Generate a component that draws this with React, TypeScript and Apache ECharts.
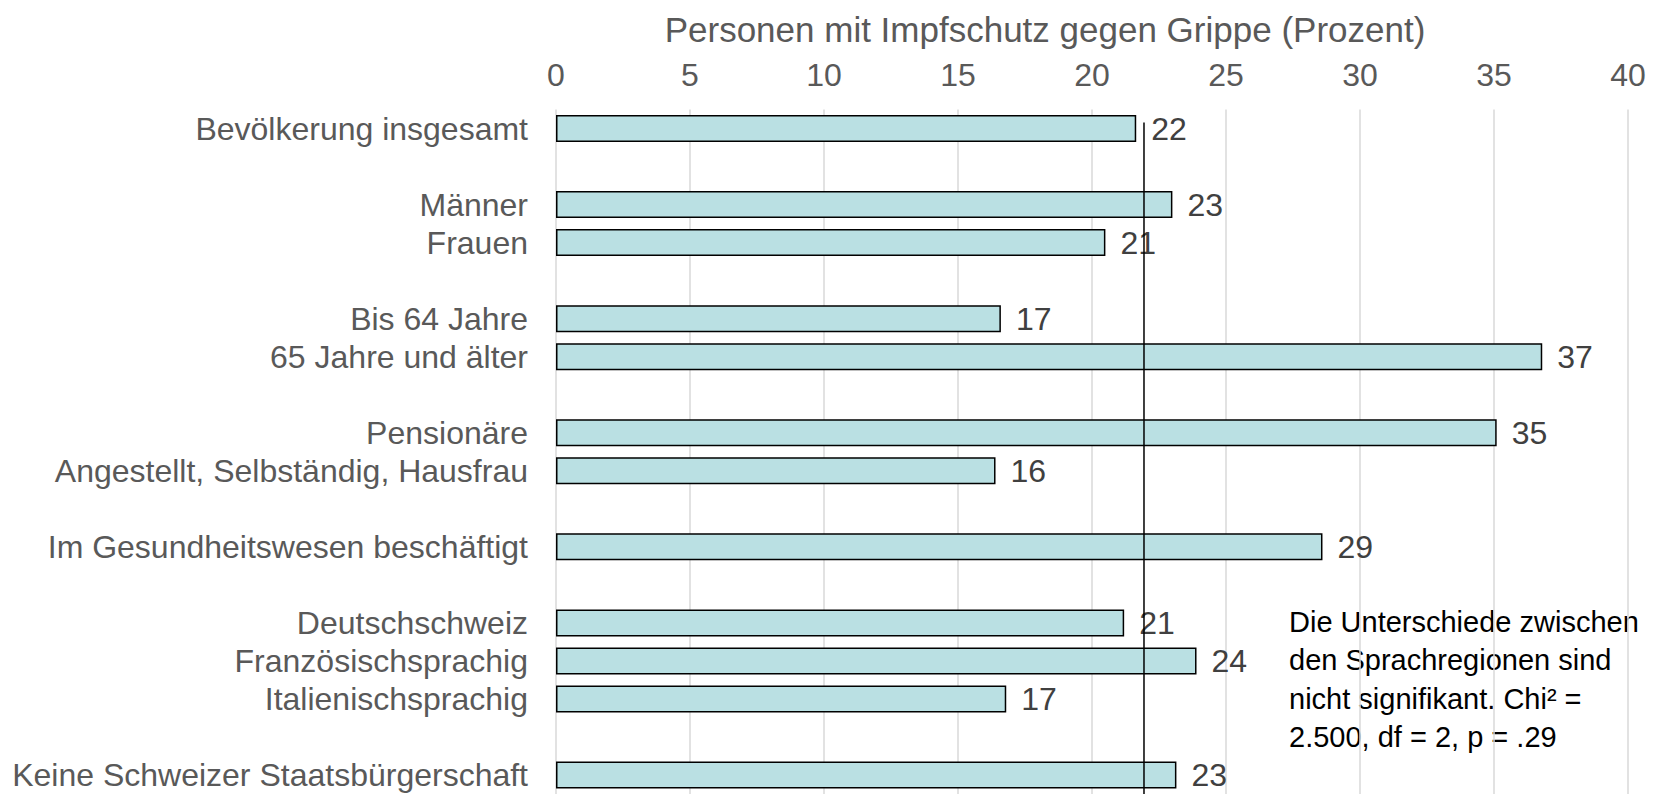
import React, { useEffect, useRef } from "react";
import * as echarts from "echarts";

const categories = [
  "Bevölkerung insgesamt",
  "",
  "Männer",
  "Frauen",
  "",
  "Bis 64 Jahre",
  "65 Jahre und älter",
  "",
  "Pensionäre",
  "Angestellt, Selbständig, Hausfrau",
  "",
  "Im Gesundheitswesen beschäftigt",
  "",
  "Deutschschweiz",
  "Französischsprachig",
  "Italienischsprachig",
  "",
  "Keine Schweizer Staatsbürgerschaft",
];

const values: (number | null)[] = [
  21.65, null, 23.0, 20.5, null, 16.6, 36.8, null, 35.1, 16.4, null, 28.6, null, 21.2, 23.9, 16.8, null, 23.15,
];

const meanValue = 21.94;
// vertical extent of the mean line, in category-index units
const meanLineFrom = -0.16;
const meanLineTo = 17.5;

const axisMin = 0;
const axisMax = 40;
const axisInterval = 5;

const axisTitle = "Personen mit Impfschutz gegen Grippe (Prozent)";

const noteLines = [
  "Die Unterschiede zwischen",
  "den Sprachregionen sind",
  "nicht signifikant. Chi² =",
  "2.500, df = 2, p = .29",
];

const FONT = "'Liberation Sans', Arial, sans-serif";

export default function App() {
  const ref = useRef<HTMLDivElement>(null);

  useEffect(() => {
    if (!ref.current) return;
    const chart = echarts.init(ref.current, undefined, { renderer: "svg" });
    chart.setOption({
      animation: false,
      textStyle: { fontFamily: FONT },
      grid: { left: 556, top: 109.5, width: 1072, height: 688.5, containLabel: false },
      xAxis: {
        type: "value",
        position: "top",
        min: axisMin,
        max: axisMax,
        interval: axisInterval,
        axisLine: { show: false },
        axisTick: { show: false },
        axisLabel: { fontSize: 32, color: "#595959", margin: 19, fontFamily: FONT },
        splitLine: { show: true, lineStyle: { color: "#D9D9D9", width: 1.5 } },
      },
      yAxis: [
        {
          type: "category",
          data: categories,
          inverse: true,
          axisLine: { show: false },
          axisTick: { show: false },
          axisLabel: { interval: 0, fontSize: 32, color: "#595959", margin: 28, fontFamily: FONT },
          splitLine: { show: false },
        },
        {
          type: "value",
          inverse: true,
          min: -0.5,
          max: categories.length - 0.5,
          show: false,
          splitLine: { show: false },
        },
      ],
      graphic: [
        {
          type: "text",
          x: 1045,
          y: 29,
          style: {
            text: axisTitle,
            fontSize: 35,
            fill: "#595959",
            fontFamily: FONT,
            textAlign: "center",
            textVerticalAlign: "middle",
          },
        },
        {
          type: "text",
          x: 1289,
          y: 603,
          style: {
            text: noteLines.join("\n"),
            fontSize: 29,
            lineHeight: 38.25,
            fill: "#000000",
            fontFamily: FONT,
            textAlign: "left",
            textVerticalAlign: "top",
          },
        },
      ],
      series: [
        {
          type: "bar",
          data: values,
          barWidth: 27,
          itemStyle: { color: "#BAE0E3", borderColor: "#000000", borderWidth: 1.5 },
          label: {
            show: true,
            position: "right",
            distance: 15,
            fontSize: 32,
            color: "#404040",
            fontFamily: FONT,
            formatter: (p: any) => String(Math.round(p.value)),
          },
        },
        {
          type: "line",
          yAxisIndex: 1,
          data: [
            [meanValue, meanLineFrom],
            [meanValue, meanLineTo],
          ],
          symbol: "none",
          silent: true,
          lineStyle: { color: "#000000", width: 1.5 },
          z: 3,
        },
      ],
    });
    return () => chart.dispose();
  }, []);

  return (
    <div
      ref={ref}
      style={{ position: "absolute", left: 0, top: 0, width: 1666, height: 794, background: "#fff" }}
    />
  );
}
